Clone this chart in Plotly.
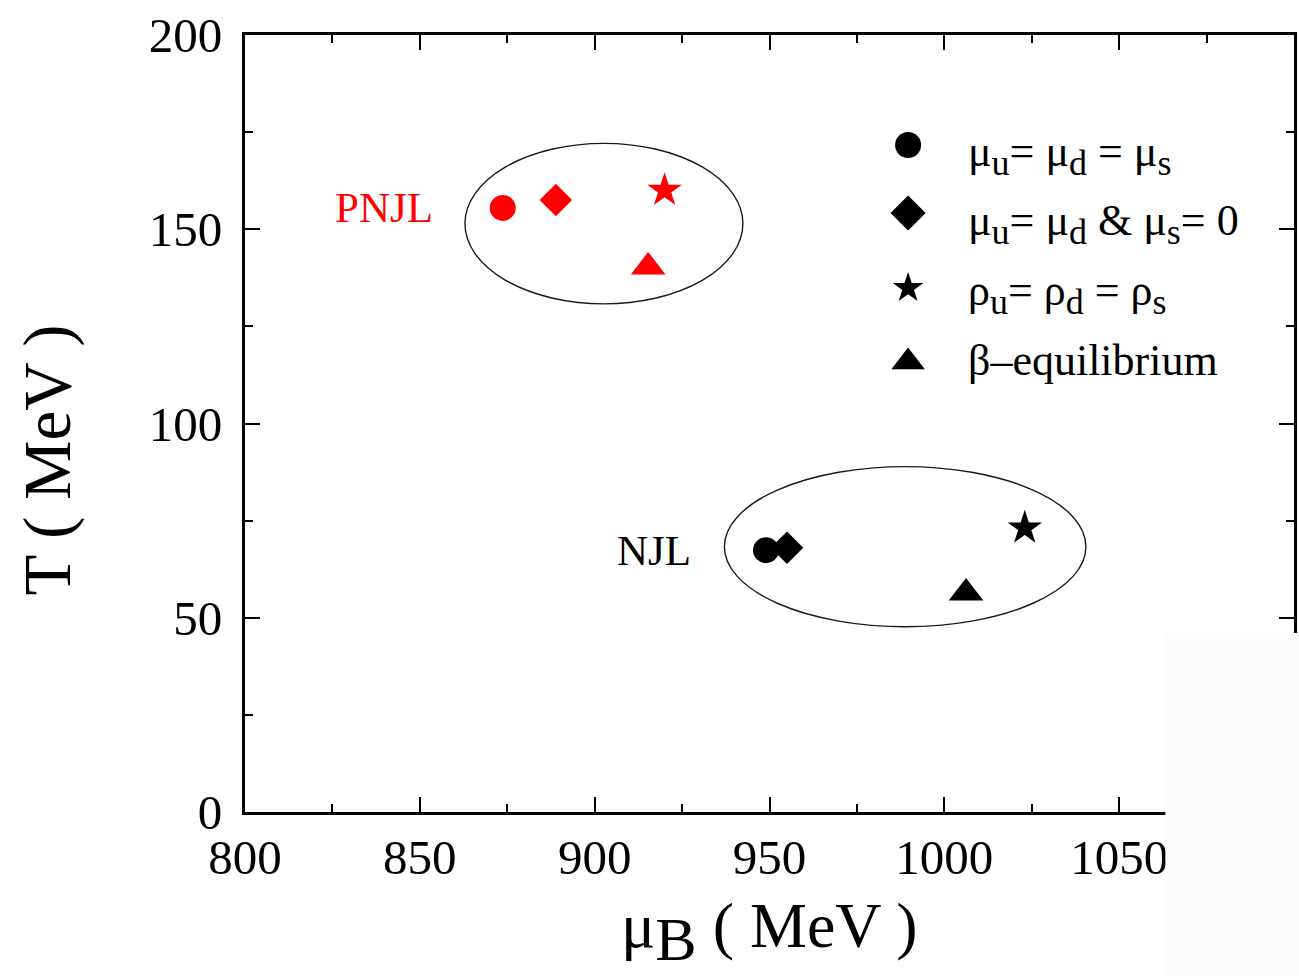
import plotly.graph_objects as go

# Location of the critical end point in the (mu_B, T) plane, in MeV,
# for four choices of the quark chemical potentials.
symbols = ["circle", "diamond", "star", "triangle-up"]
SUB = "<sub><span style='font-size:36px'>{}</span></sub>"
labels = [
    "μ" + SUB.format("u") + "= μ" + SUB.format("d") + " = μ" + SUB.format("s"),
    "μ" + SUB.format("u") + "= μ" + SUB.format("d") + " &amp; μ" + SUB.format("s") + "= 0",
    "ρ" + SUB.format("u") + "= ρ" + SUB.format("d") + " = ρ" + SUB.format("s"),
    "β–equilibrium",
]
pnjl_mu = [873.7, 888.9, 920.0, 915.3]
pnjl_T = [155.5, 157.5, 160.0, 140.3]
njl_mu = [949.0, 955.0, 1023.0, 1006.2]
njl_T = [67.4, 68.0, 73.1, 56.4]

# Ellipses grouping each model's points: (mu0, mu1, T0, T1)
pnjl_box = [862.9, 942.4, 130.8, 172.1]
njl_box = [937.1, 1040.5, 47.7, 88.9]

W, H = 1299, 976
L, R, T, B = 245, 2, 35, 164
FONT = "Liberation Serif"


def px(x):
    return (x - L) / (W - L - R)


def py(y):
    return (H - B - y) / (H - T - B)


data_sizes = [26, 25, 26, 30]
key_sizes = [26, 27, 23, 29]

fig = go.Figure()

fig.add_trace(go.Scatter(
    x=pnjl_mu, y=pnjl_T, mode="markers",
    marker=dict(symbol=symbols, size=data_sizes, color="#ff0000",
                opacity=1, line=dict(width=0)),
    showlegend=False, hoverinfo="skip",
))
fig.add_trace(go.Scatter(
    x=njl_mu, y=njl_T, mode="markers",
    marker=dict(symbol=symbols, size=data_sizes, color="black",
                opacity=1, line=dict(width=0)),
    showlegend=False, hoverinfo="skip",
))

# Legend keys drawn on an overlay axis spanning the plot area in paper units
key_x = [px(910)] * 4
key_y = [py(145), py(213), py(288), py(362)]
fig.add_trace(go.Scatter(
    x=key_x, y=key_y, mode="markers", xaxis="x2", yaxis="y2",
    marker=dict(symbol=symbols, size=key_sizes, color="black",
                opacity=1, line=dict(width=0)),
    showlegend=False, hoverinfo="skip",
))

shapes = []
for box in (pnjl_box, njl_box):
    shapes.append(dict(
        type="circle", xref="x", yref="y",
        x0=box[0], x1=box[1], y0=box[2], y1=box[3],
        line=dict(color="#1a1a1a", width=1.4), layer="below",
    ))
# blank patch over the lower-right corner of the frame
shapes.append(dict(
    type="rect", xref="paper", yref="paper",
    x0=px(1168), x1=px(1320), y0=py(633), y1=py(1000),
    fillcolor="#fcfcfc", line=dict(width=0), layer="above",
))

annotations = []
text_y = [155, 224, 294, 360]
for lab, ty in zip(labels, text_y):
    annotations.append(dict(
        text=lab, xref="paper", yref="paper", x=px(968), y=py(ty),
        xanchor="left", yanchor="middle", showarrow=False,
        font=dict(family=FONT, size=44, color="black"),
    ))
annotations.append(dict(
    text="PNJL", xref="paper", yref="paper", x=px(436), y=py(208),
    xanchor="right", yanchor="middle", showarrow=False,
    font=dict(family=FONT, size=43, color="#ff0000"),
))
annotations.append(dict(
    text="NJL", xref="paper", yref="paper", x=px(694), y=py(550),
    xanchor="right", yanchor="middle", showarrow=False,
    font=dict(family=FONT, size=43, color="black"),
))
annotations.append(dict(
    text="T ( MeV )", xref="paper", yref="paper", x=px(46), y=py(460),
    xanchor="center", yanchor="middle", textangle=-90, showarrow=False,
    font=dict(family=FONT, size=67, color="black"),
))
annotations.append(dict(
    text="μ<sub><span style='font-size:62px'>B</span></sub> ( MeV )",
    xref="paper", yref="paper", x=px(771), y=py(932),
    xanchor="center", yanchor="middle", showarrow=False,
    font=dict(family=FONT, size=64, color="black"),
))

axis_common = dict(
    showline=True, linewidth=3, linecolor="black", mirror="ticks",
    ticks="inside", ticklen=15, tickwidth=2, tickcolor="black",
    showgrid=False, zeroline=False,
    tickfont=dict(family=FONT, size=49, color="black"),
)

fig.update_layout(
    width=W, height=H,
    margin=dict(l=L, r=R, t=T, b=B),
    paper_bgcolor="white", plot_bgcolor="white",
    xaxis=dict(range=[800, 1100], dtick=50, tick0=800,
               minor=dict(ticks="inside", ticklen=8, tickwidth=2, dtick=25, tickcolor="black"),
               ticklabelstandoff=0, **axis_common),
    yaxis=dict(range=[0, 200], dtick=50, tick0=0,
               minor=dict(ticks="inside", ticklen=8, tickwidth=2, dtick=25, tickcolor="black"),
               ticklabelstandoff=10, **axis_common),
    xaxis2=dict(range=[0, 1], overlaying="x", visible=False),
    yaxis2=dict(range=[0, 1], overlaying="y", visible=False),
    shapes=shapes,
    annotations=annotations,
)

fig.write_html("out.html")
